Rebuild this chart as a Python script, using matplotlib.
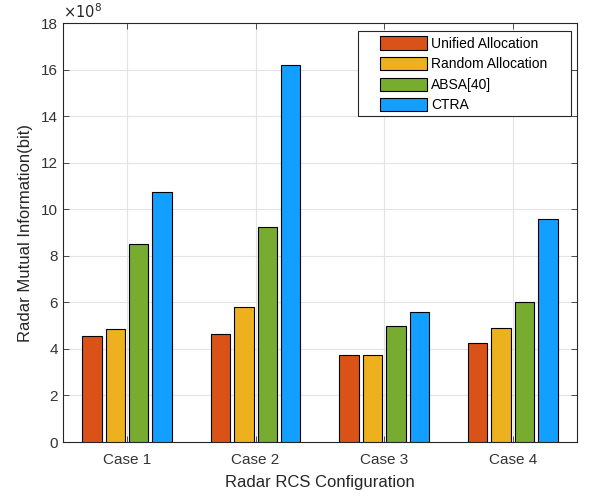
import numpy as np
import matplotlib.pyplot as plt
from matplotlib.patches import Rectangle

plt.rcParams['font.family'] = ['Liberation Sans', 'DejaVu Sans']

# data (values in units of 1e8 bit)
cases = ['Case 1', 'Case 2', 'Case 3', 'Case 4']
unified = [4.57, 4.63, 3.74, 4.27]
random_alloc = [4.86, 5.79, 3.74, 4.91]
absa = [8.51, 9.24, 4.99, 6.03]
ctra = [10.73, 16.2, 5.60, 9.56]

series = [unified, random_alloc, absa, ctra]
labels = ['Unified Allocation', 'Random Allocation', 'ABSA[40]', 'CTRA']
colors = ['#D95319', '#EDB120', '#77AC30', '#139FFF']

fig = plt.figure(figsize=(6.03, 5.0), dpi=100)
ax = fig.add_axes([0.104, 0.116, 0.853, 0.838])

x = np.arange(1, len(cases) + 1)
offsets = [-0.273, -0.091, 0.091, 0.273]
for k, vals in enumerate(series):
    ax.bar(x + offsets[k], vals, width=0.15, color=colors[k],
           edgecolor='black', linewidth=0.8, label=labels[k], zorder=3)

# axes styling, matlab-ish
ax.set_xlim(0.5, 4.5)
ax.set_ylim(0, 18)
ax.set_xticks(x)
ax.set_xticklabels(cases)
ax.set_yticks(np.arange(0, 19, 2))
ax.grid(True, color='#e3e3e3', linewidth=0.8, zorder=0)
ax.tick_params(direction='in', top=True, right=True, labelsize=11,
               length=4, width=0.6, colors='#333333')
ax.tick_params(axis='x', pad=8)
for s in ax.spines.values():
    s.set_color('#262626')
    s.set_linewidth(0.8)

ax.set_xlabel('Radar RCS Configuration', fontsize=12, color='#262626', labelpad=6)
ax.set_ylabel('Radar Mutual Information(bit)', fontsize=12, color='#262626', labelpad=6)
ax.text(0.0, 1.005, r'$\times10^{8}$', transform=ax.transAxes, fontsize=10.5,
        color='#262626', va='bottom', ha='left')

# legend: frameless entries + own box (matlab has wide side padding)
leg = ax.legend(loc='upper left', fontsize=10, frameon=False,
                handlelength=3.4, handleheight=1.08, borderpad=0,
                borderaxespad=0, labelspacing=0.45, handletextpad=0.3,
                bbox_to_anchor=(0.616, 0.968))
leg.set_zorder(6)
box = Rectangle((0.5745, 0.7786), 0.4145, 0.203, transform=ax.transAxes,
                facecolor='white', edgecolor='#262626', linewidth=0.8, zorder=5)
ax.add_patch(box)

fig.savefig('out.png', dpi=100)
